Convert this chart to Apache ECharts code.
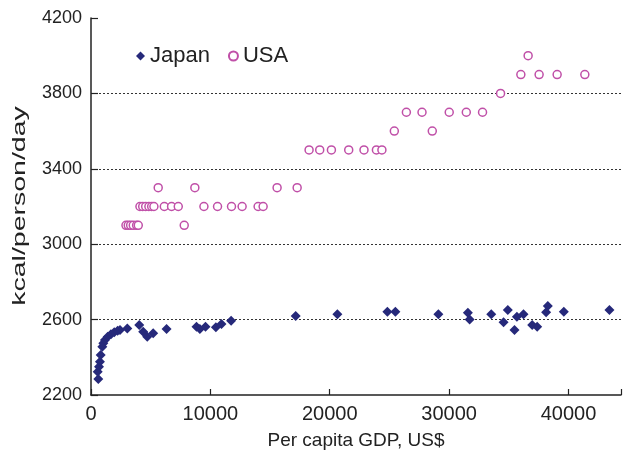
<!DOCTYPE html>
<html>
<head>
<meta charset="utf-8">
<script src="https://cdn.jsdelivr.net/npm/echarts@6/dist/echarts.min.js"></script>
<style>
html,body{margin:0;padding:0;background:#fff;}
#c{width:624px;height:458px;}
</style>
</head>
<body>
<div id="c"></div>
<script>
// Japan: [GDP per capita US$, kcal/person/day]
const japanGDP = [610, 560, 670, 750, 810, 950, 1030, 1170, 1400, 1670, 1950, 2230, 2430,
  3040, 4040, 4370, 4710, 5210, 6330, 8840, 9120, 9590, 10460, 10930, 11740,
  17150, 20640, 24830, 25500, 29100, 31570, 31720, 33530, 34560, 34920, 35480, 35680,
  36230, 36960, 37380, 38130, 38270, 39610, 43430];
const japanKcal = [2285, 2324, 2350, 2377, 2412, 2456, 2474, 2492, 2509, 2522, 2533, 2541, 2545,
  2553, 2571, 2536, 2509, 2527, 2550, 2562, 2550, 2562, 2559, 2577, 2594,
  2619, 2628, 2642, 2642, 2628, 2637, 2601, 2628, 2586, 2651, 2545, 2615,
  2628, 2571, 2562, 2639, 2672, 2642, 2651];
// USA
const usaGDP = [2930, 3120, 3320, 3540, 3820, 3960, 7810,
  4100, 4330, 4580, 4850, 5080, 5270, 6140, 6750, 7310, 9460, 10600, 11770, 12660, 14000, 14420,
  5630, 8700, 15590, 17270,
  18270, 19160, 20140, 21590, 22870, 23910, 24370,
  25410, 28590,
  26420, 27730, 30010, 31440, 32800,
  34310,
  36010, 37540, 39050, 41370,
  36620];
const usaKcal = [3100, 3100, 3100, 3100, 3100, 3100, 3100,
  3200, 3200, 3200, 3200, 3200, 3200, 3200, 3200, 3200, 3200, 3200, 3200, 3200, 3200, 3200,
  3300, 3300, 3300, 3300,
  3500, 3500, 3500, 3500, 3500, 3500, 3500,
  3600, 3600,
  3700, 3700, 3700, 3700, 3700,
  3800,
  3900, 3900, 3900, 3900,
  4000];
const yTicks = [2200, 2600, 3000, 3400, 3800, 4200];
const xTicks = [0, 10000, 20000, 30000, 40000];
const yTitle = 'kcal/person/day';
const xTitle = 'Per capita GDP, US$';

const zip = (a, b) => a.map((v, i) => [v, b[i]]);
const font = 'Liberation Sans, Arial, sans-serif';

const chart = echarts.init(document.getElementById('c'), null, {renderer: 'canvas'});
chart.setOption({
  animation: false,
  backgroundColor: '#fff',
  grid: {left: 91, right: 3, top: 18, bottom: 63, containLabel: false},
  legend: {
    left: 131, top: 40,
    itemWidth: 9, itemHeight: 9, itemGap: 18,
    textStyle: {fontFamily: font, fontSize: 22, color: '#222'},
    data: ['Japan', 'USA']
  },
  graphic: [{
    type: 'text',
    x: 20, y: 206, rotation: Math.PI / 2, scaleX: 1.5,
    style: {text: yTitle, fontFamily: font, fontSize: 19, fill: '#222',
      align: 'center', verticalAlign: 'middle'}
  }],
  xAxis: {
    type: 'value', min: 0, max: 44400, interval: 10000,
    name: xTitle, nameLocation: 'middle', nameGap: 36,
    nameTextStyle: {fontFamily: font, fontSize: 19, color: '#222'},
    axisLine: {show: true, lineStyle: {color: '#222', width: 1.5}},
    axisTick: {show: true, inside: true, length: 6, lineStyle: {color: '#222', width: 1.2}},
    axisLabel: {fontFamily: font, fontSize: 20, color: '#222', margin: 9,
      formatter: v => xTicks.includes(v) ? String(v) : ''},
    splitLine: {show: false}
  },
  yAxis: {
    type: 'value', min: 2200, max: 4200, interval: 400,
    axisLine: {show: true, lineStyle: {color: '#222', width: 1.5}},
    axisTick: {show: true, inside: true, length: 7, lineStyle: {color: '#222', width: 1.2}},
    axisLabel: {fontFamily: font, fontSize: 18, color: '#222', margin: 9,
      formatter: v => yTicks.includes(v) ? String(v) : ''},
    splitLine: {show: true, showMinLine: false, showMaxLine: false,
      lineStyle: {color: '#333', type: [2, 2], width: 1}}
  },
  series: [
    {
      name: 'Japan', type: 'scatter', symbol: 'diamond', symbolSize: 10,
      itemStyle: {color: '#26297a', opacity: 1},
      data: zip(japanGDP, japanKcal), z: 3
    },
    {
      name: 'USA', type: 'scatter', symbol: 'circle', symbolSize: 8,
      itemStyle: {color: '#fff', borderColor: '#c050a8', borderWidth: 1.5, opacity: 1},
      data: zip(usaGDP, usaKcal), z: 2
    }
  ]
});
</script>
</body>
</html>
